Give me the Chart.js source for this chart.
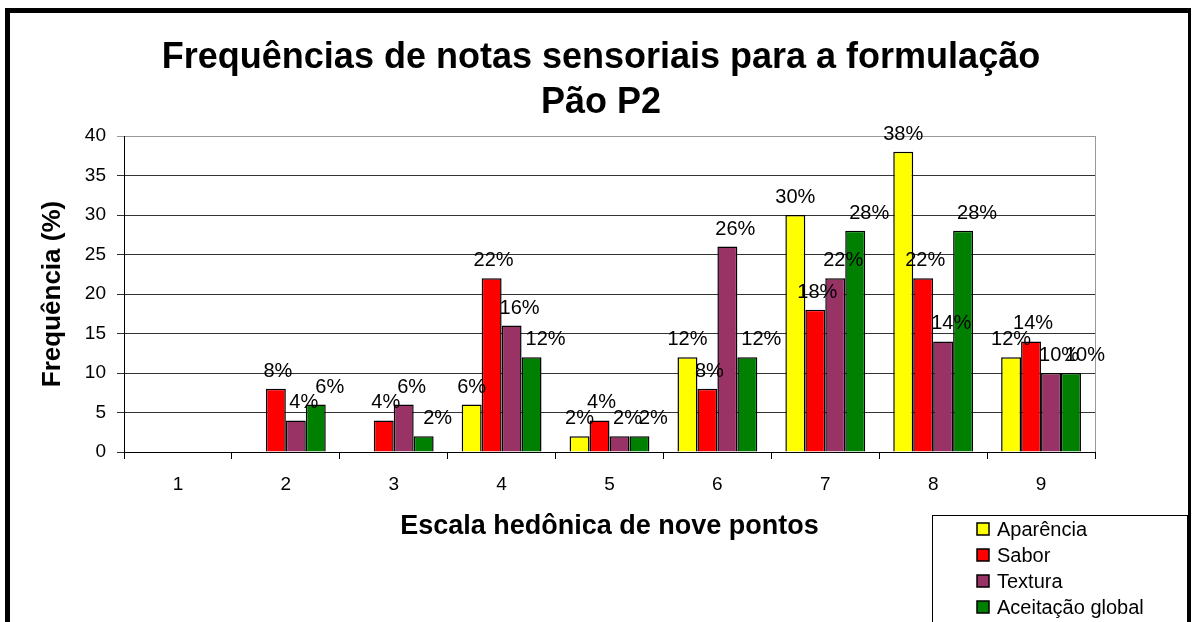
<!DOCTYPE html>
<html>
<head>
<meta charset="utf-8">
<script src="https://cdn.jsdelivr.net/npm/chart.js@4.4.1/dist/chart.umd.min.js"></script>
<style>
  body { margin: 0; background: #fff; }
  #wrap { position: relative; width: 1192px; height: 622px; overflow: hidden; }
  #frame {
    position: absolute; left: 5px; top: 8px; width: 1186px; height: 700px;
    border: 5px solid #000; border-right-width: 3px; box-sizing: border-box;
    pointer-events: none;
  }
</style>
</head>
<body>
<div id="wrap">
  <canvas id="myChart" width="1192" height="622"></canvas>
  <div id="frame"></div>
</div>
<script>
// Scale points (x axis categories)
const escala = ["1", "2", "3", "4", "5", "6", "7", "8", "9"];

// Frequencies (%)
const aparencia = [0, 0, 0, 6, 2, 12, 30, 38, 12];
const sabor = [0, 8, 4, 22, 4, 8, 18, 22, 14];
const textura = [0, 4, 6, 16, 2, 26, 22, 14, 10];
const aceitacao = [0, 6, 2, 12, 2, 12, 28, 28, 10];

const seriesNames = ["Aparência", "Sabor", "Textura", "Aceitação global"];
const seriesColors = ["#ffff00", "#ff0000", "#993366", "#008000"];
const titleLines = ["Frequências de notas sensoriais para a formulação", "Pão P2"];

const FONT = "'Liberation Sans', Arial, sans-serif";
Chart.defaults.font.family = FONT;
Chart.defaults.color = "#000";

// Two-line title, centred on the whole frame rather than the plot
const frameTitle = {
  id: "frameTitle",
  afterDraw(chart, args, opts) {
    const ctx = chart.ctx;
    ctx.save();
    ctx.font = "bold " + opts.size + "px " + FONT;
    ctx.fillStyle = "#000";
    ctx.textAlign = "center";
    ctx.textBaseline = "alphabetic";
    opts.lines.forEach((line, i) => {
      ctx.fillText(line, opts.x, opts.baseline + i * opts.step);
    });
    ctx.restore();
  },
};

// Percent labels above each non-zero bar
const percentLabels = {
  id: "percentLabels",
  afterDatasetsDraw(chart, args, opts) {
    const ctx = chart.ctx;
    ctx.save();
    ctx.font = "20px " + FONT;
    ctx.fillStyle = "#000";
    ctx.textAlign = "center";
    ctx.textBaseline = "alphabetic";
    chart.data.datasets.forEach((ds, i) => {
      const meta = chart.getDatasetMeta(i);
      meta.data.forEach((bar, j) => {
        const v = ds.data[j];
        if (!v) return;
        ctx.fillText(v + "%", bar.x + opts.shift[i], bar.y - opts.gap);
      });
    });
    ctx.restore();
  },
};

// Grey right edge of the plot area
const plotEdge = {
  id: "plotEdge",
  beforeDatasetsDraw(chart) {
    const { ctx, chartArea } = chart;
    ctx.save();
    ctx.strokeStyle = "#999";
    ctx.lineWidth = 1;
    ctx.beginPath();
    ctx.moveTo(Math.round(chartArea.right) + 0.5, chartArea.top);
    ctx.lineTo(Math.round(chartArea.right) + 0.5, chartArea.bottom);
    ctx.stroke();
    ctx.restore();
  },
};

// Boxed legend in the bottom right corner
const boxLegend = {
  id: "boxLegend",
  afterDraw(chart, args, opts) {
    const ctx = chart.ctx;
    ctx.save();
    ctx.strokeStyle = "#000";
    ctx.lineWidth = 1;
    ctx.strokeRect(opts.x + 0.5, opts.y + 0.5, opts.w, 200);
    ctx.font = "20px " + FONT;
    ctx.textBaseline = "middle";
    ctx.textAlign = "left";
    chart.data.datasets.forEach((ds, i) => {
      const cy = opts.y + opts.first + i * opts.step;
      ctx.fillStyle = ds.backgroundColor;
      ctx.fillRect(opts.x + 45, cy - 6, 12, 12);
      ctx.lineWidth = 1.5;
      ctx.strokeRect(opts.x + 45, cy - 6, 12, 12);
      ctx.fillStyle = "#000";
      ctx.fillText(ds.label, opts.x + 65, cy + 1);
    });
    ctx.restore();
  },
};

const values = [aparencia, sabor, textura, aceitacao];
const datasets = values.map((vals, i) => ({
  label: seriesNames[i],
  data: vals,
  backgroundColor: seriesColors[i],
  borderColor: "#000",
  borderWidth: 1.5,
  borderSkipped: "bottom",
  categoryPercentage: 0.74,
  barPercentage: 1.0,
}));

const ctx = document.getElementById("myChart").getContext("2d");
new Chart(ctx, {
  type: "bar",
  data: { labels: escala, datasets: datasets },
  plugins: [frameTitle, percentLabels, plotEdge, boxLegend],
  options: {
    responsive: false,
    animation: false,
    devicePixelRatio: 1,
    layout: { padding: { left: 10, right: 97, top: 136, bottom: 0 } },
    plugins: {
      legend: { display: false },
      tooltip: { enabled: false },
      title: { display: false },
      frameTitle: { lines: titleLines, size: 36, x: 601, baseline: 68, step: 45 },
      percentLabels: { shift: [0, 2, 8, 14], gap: 12 },
      boxLegend: { x: 932, y: 515, w: 255, first: 14, step: 26 },
    },
    scales: {
      x: {
        afterFit: (s) => { s.height = 170; },
        grid: {
          display: true,
          offset: true,
          drawOnChartArea: false,
          tickLength: 7,
          color: "#000",
        },
        border: { display: true, color: "#000", width: 1 },
        ticks: { font: { size: 19 }, padding: 14, color: "#000" },
        title: {
          display: true,
          text: "Escala hedônica de nove pontos",
          font: { size: 27, weight: "bold", lineHeight: 1.2 },
          color: "#000",
          padding: { top: 0, bottom: 79 },
        },
      },
      y: {
        min: 0,
        max: 40,
        afterFit: (s) => { s.width = 114; },
        ticks: { stepSize: 5, font: { size: 19 }, padding: 11, color: "#000" },
        grid: {
          tickLength: 7,
          color: (c) => (c.tick && c.tick.value === 40 ? "#999" : "#333"),
        },
        border: { display: true, color: "#000", width: 1 },
        title: {
          display: true,
          text: "Frequência (%)",
          font: { size: 26, weight: "bold", lineHeight: 1.2 },
          color: "#000",
          padding: { top: 27, bottom: 0 },
        },
      },
    },
  },
});
</script>
</body>
</html>
